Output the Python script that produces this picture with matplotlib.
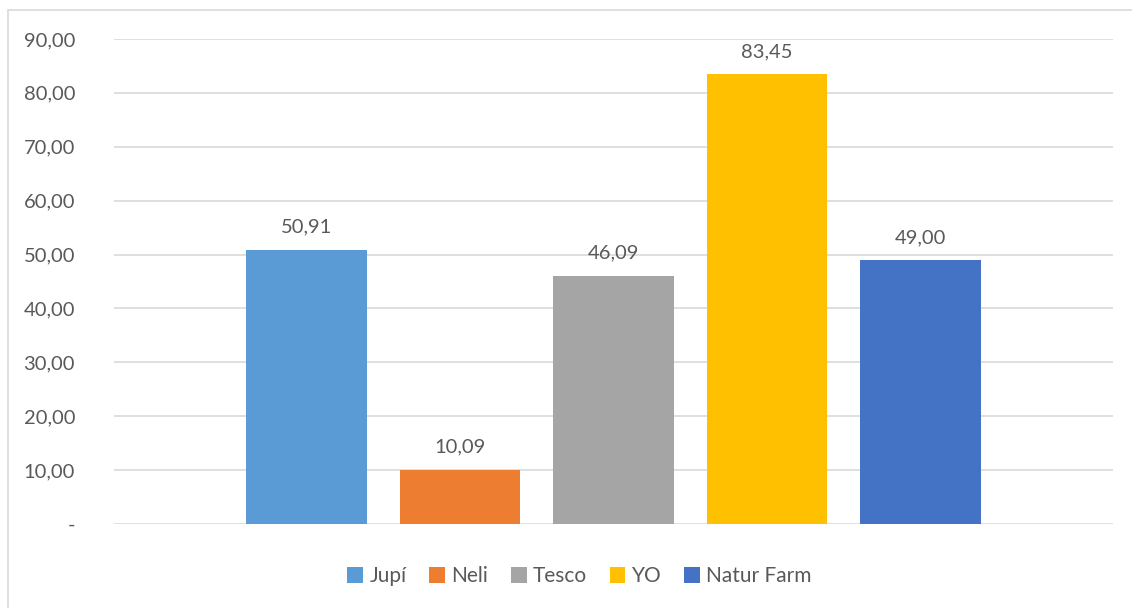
import matplotlib.pyplot as plt
from matplotlib.patches import Rectangle, Patch

brands = ['Jupí', 'Neli', 'Tesco', 'YO', 'Natur Farm']
values = [50.91, 10.09, 46.09, 83.45, 49.00]
colors = ['#5B9BD5', '#ED7D31', '#A5A5A5', '#FFC000', '#4472C4']
yticks = [0, 10, 20, 30, 40, 50, 60, 70, 80, 90]

text_color = '#595959'
plt.rcParams['font.family'] = ['Lato', 'DejaVu Sans']

fig = plt.figure(figsize=(11.32, 6.08), dpi=100)
ax = fig.add_axes([0.1007, 0.1382, 0.8825, 0.7977])

x = list(range(len(brands)))
bars = ax.bar(x, values, width=0.788, color=colors, zorder=2)
for b, v in zip(bars, values):
    ax.text(b.get_x() + b.get_width() / 2, v + 2.6, f'{v:.2f}'.replace('.', ','),
            ha='center', va='bottom', fontsize=14.5, color=text_color)

ax.set_xlim(-1.254, len(brands) - 1 + 1.254)
ax.set_ylim(0, 90)
ax.set_yticks(yticks)
ax.set_yticklabels(['-'] + [f'{t:.2f}'.replace('.', ',') for t in yticks[1:]])
ax.tick_params(axis='y', length=0, pad=28, labelsize=14.5, labelcolor=text_color)
ax.set_xticks([])
ax.grid(axis='y', color='#D9D9D9', linewidth=1.2, zorder=0)
for s in ax.spines.values():
    s.set_visible(False)

handles = [Patch(facecolor=c) for c in colors]
fig.legend(handles, brands, loc='center', bbox_to_anchor=(0.512, 0.052), ncol=5,
           frameon=False, fontsize=15, labelcolor=text_color,
           handlelength=0.75, handleheight=0.75, handletextpad=0.3, columnspacing=1.1)

fig.patches.append(Rectangle((8 / 1132, -0.01), 1.02, (598 + 0.01 * 608) / 608,
                             transform=fig.transFigure, fill=False,
                             edgecolor='#D9D9D9', linewidth=1.2))

fig.savefig('out.png', dpi=100)
